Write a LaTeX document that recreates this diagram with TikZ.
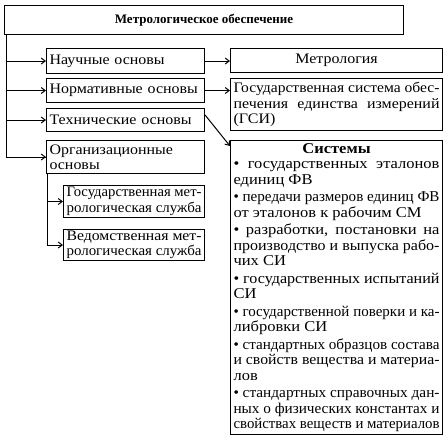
\documentclass[tikz,border=0pt]{standalone}
\usepackage{fontspec}
\usepackage{graphicx}
\setmainfont{Liberation Serif}[FakeStretch=1.1]
\newfontfamily\titlefont{Liberation Serif}
\usetikzlibrary{arrows.meta,calc}
\newlength\tmpw
\newcommand\JL[1]{\settowidth\tmpw{#1}\ifdim\tmpw>\linewidth\resizebox{\linewidth}{\height}{#1}\else\makebox[\linewidth][s]{#1}\fi\par}
\newcommand\PL[1]{\settowidth\tmpw{#1}\ifdim\tmpw>\linewidth\resizebox{\linewidth}{\height}{#1}\else\mbox{#1}\fi\par}
\begin{document}
\begin{tikzpicture}[x=1pt,y=-1pt,
  box/.style={draw, line width=1.1pt, anchor=north west, inner xsep=3pt, inner ysep=0pt,
    font=\fontsize{14.5}{15.5}\selectfont},
  arr/.style={line width=1pt, -{Straight Barb[length=4pt,width=6pt,line width=1pt]}},
  line/.style={line width=1pt}]
\useasboundingbox (0,0) rectangle (448,442);
% top
\node[box, minimum width=399pt, minimum height=29pt, font=\titlefont\fontsize{13}{15}\selectfont\bfseries] (top) at (4,5) {Метрологическое обеспечение};
% left column
\node[box, text width=152pt, minimum height=25pt, align=left] (nauch) at (46,48) {\mbox{Научные основы}};
\node[box, text width=152pt, minimum height=24pt, align=left] (norm) at (46,78) {\mbox{Нормативные основы}};
\node[box, text width=152pt, minimum height=23pt, align=left] (tech) at (46,108) {\mbox{Технические основы}};
\node[box, text width=152pt, minimum height=33pt, align=left] (org) at (46,140) {Организационные\\основы};
\node[box, minimum height=32pt] (gos) at (63,185) {\begin{minipage}{135pt}\JL{Государственная мет-}\JL{рологическая служба}\end{minipage}};
\node[box, minimum height=31pt] (ved) at (63,229) {\begin{minipage}{135pt}\JL{Ведомственная мет-}\JL{рологическая служба}\end{minipage}};
% right column
\node[box, text width=206pt, minimum height=24pt, align=center] (metr) at (230,48) {Метрология};
\node[box, minimum height=52pt] (gsi) at (230,78) {\begin{minipage}{206pt}\JL{Государственная система обес-}\JL{печения единства измерений}\PL{(ГСИ)}\end{minipage}};
\node[box, minimum height=294pt, font=\fontsize{15}{15.5}\selectfont] (sys) at (230,140) {\begin{minipage}{206pt}\parskip=0pt
\centerline{\bfseries Системы}\par
\JL{• государственных эталонов}\PL{единиц ФВ}\vspace{2pt}
\JL{• передачи размеров единиц ФВ}\PL{от эталонов к рабочим СМ}\vspace{2pt}
\JL{• разработки, постановки на}\JL{производство и выпуска рабо-}\PL{чих СИ}\vspace{2pt}
\JL{• государственных испытаний}\PL{СИ}\vspace{2pt}
\JL{• государственной поверки и ка-}\PL{либровки СИ}\vspace{2pt}
\JL{• стандартных образцов состава}\JL{и свойств вещества и материа-}\PL{лов}\vspace{2pt}
\JL{• стандартных справочных дан-}\JL{ных о физических константах и}\JL{свойствах веществ и материалов}
\end{minipage}};
% trunk
\coordinate (t0) at ($(top.south west)+(2,0)$);
\draw[line] (t0) |- (org.west);
\draw[arr] (t0) |- (nauch.west);
\draw[arr] (t0) |- (norm.west);
\draw[arr] (t0) |- (tech.west);
\draw[arr] (t0) |- (org.west);
% sub trunk
\coordinate (s0) at ($(org.south west)+(1.5,0)$);
\draw[arr] (s0) |- (gos.west);
\draw[arr] (s0) |- (ved.west);
% horizontal arrows
\draw[arr] (nauch.east) -- (nauch.east -| metr.west);
\draw[arr] (norm.east) -- (norm.east -| gsi.west);
\draw[arr] ([yshift=5pt]tech.east) -- ([yshift=-6pt]sys.north west);
\end{tikzpicture}
\end{document}
